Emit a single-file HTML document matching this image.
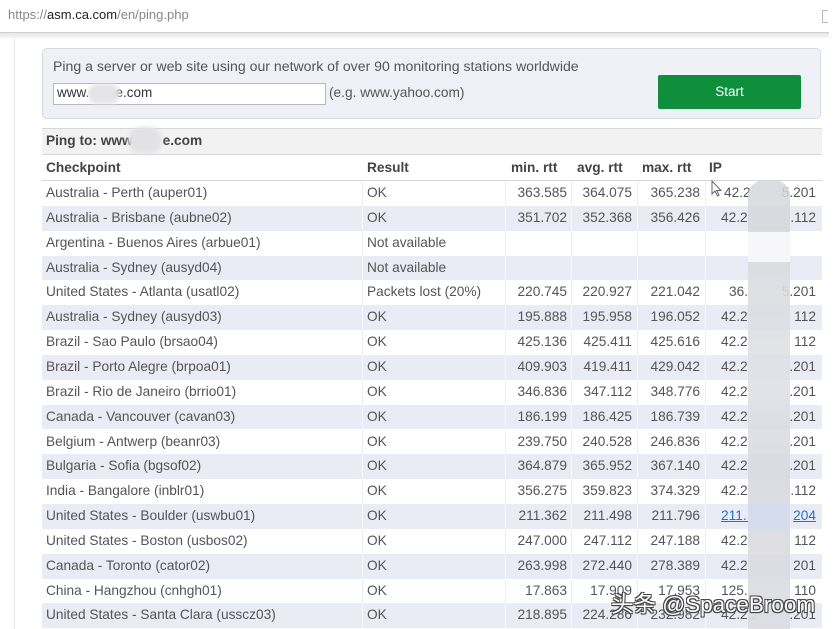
<!DOCTYPE html>
<html><head><meta charset="utf-8">
<style>
*{margin:0;padding:0;box-sizing:border-box}
html,body{width:837px;height:629px;overflow:hidden;background:#fff}
body{position:relative;font-family:"Liberation Sans","Noto Sans CJK SC",sans-serif;color:#555;font-size:13.7px}
.a{position:absolute;white-space:nowrap}
.row{position:absolute;left:42px;width:780px;height:24.85px;line-height:24.85px}
.row.s{background:#e9ecf4}
.c{position:absolute;top:0;height:100%;white-space:nowrap}
.vb{position:absolute;top:0;height:100%;width:1px;background:#eeeeee}
.row.s .vb{background:#f7f8fb}
.n{text-align:right}
</style></head><body>
<!-- browser chrome -->
<div class="a" style="left:8px;top:7px;font-size:13px;color:#888">https://<span style="color:#222">asm.ca.com</span>/en/ping.php</div>
<div class="a" style="left:822px;top:10px;width:6px;height:13px;border:1px solid #bbb;border-right:none"></div>
<div class="a" style="left:0;top:32px;width:829px;height:1px;background:#cfcfcf"></div>
<div class="a" style="left:0;top:33px;width:829px;height:5px;background:linear-gradient(#e6e6e6,#f6f6f6)"></div>
<div class="a" style="left:14px;top:38px;width:1px;height:591px;background:#e8e8e8"></div>

<!-- form box -->
<div class="a" style="left:42px;top:48px;width:779px;height:71px;background:#eff1f6;border:1px solid #d6d9e0;border-radius:5px"></div>
<div class="a" style="left:53px;top:58px;font-size:14.1px;color:#555">Ping a server or web site using our network of over 90 monitoring stations worldwide</div>
<div class="a" style="left:53px;top:83px;width:273px;height:22px;background:#fff;border:1px solid #b8b8b8"></div>
<div class="a" style="left:57px;top:85px;font-size:13.5px;color:#333">www.&nbsp;&nbsp;&nbsp;&nbsp;&nbsp;&nbsp;&nbsp;e.com</div>
<div class="a" style="left:88px;top:84px;width:32px;height:20px;border-radius:10px;background:#e4e4e6;filter:blur(2px)"></div>
<div class="a" style="left:329px;top:85px;font-size:13.7px;color:#555">(e.g. www.yahoo.com)</div>
<div class="a" style="left:658px;top:75px;width:143px;height:34px;background:#0f8f3c;border-radius:2px;color:#fff;font-size:13.5px;line-height:34px;text-align:center">Start</div>

<!-- ping to row -->
<div class="a" style="left:42px;top:128px;width:780px;height:1px;background:#d8d8d8"></div>
<div class="a" style="left:42px;top:129px;width:780px;height:25px;background:#f2f2f2"></div>
<div class="a" style="left:42px;top:154px;width:780px;height:1px;background:#d8d8d8"></div>
<div class="a" style="left:46px;top:133px;font-weight:bold;color:#444">Ping to: www.&nbsp;&nbsp;&nbsp;&nbsp;&nbsp;&nbsp;&nbsp;e.com</div>
<div class="a" style="left:128px;top:127px;width:34px;height:27px;border-radius:14px;background:#e2e2e4;filter:blur(2px)"></div>

<!-- header -->
<div class="a" style="left:42px;top:155px;width:780px;height:25px;line-height:25px;font-weight:bold;color:#444">
<span class="c" style="left:4px">Checkpoint</span>
<span class="c" style="left:325px">Result</span>
<span class="c" style="left:469px">min. rtt</span>
<span class="c" style="left:535px">avg. rtt</span>
<span class="c" style="left:600px">max. rtt</span>
<span class="c" style="left:667px">IP</span>
</div>
<div class="a" style="left:42px;top:180px;width:780px;height:1px;background:#d6d6d6"></div>

<!-- rows -->
<div class="row" style="top:181px"><span class="c" style="left:4px">Australia - Perth (auper01)</span><span class="vb" style="left:320px"></span><span class="c" style="left:325px">OK</span><span class="vb" style="left:463px"></span><span class="c n" style="right:255px">363.585</span><span class="vb" style="left:529px"></span><span class="c n" style="right:190px">364.075</span><span class="vb" style="left:595px"></span><span class="c n" style="right:122px">365.238</span><span class="vb" style="left:663px"></span><span class="c" style="left:682px">42.2</span><span class="c n" style="right:6px">5.201</span></div>
<div class="row s" style="top:205.85px"><span class="c" style="left:4px">Australia - Brisbane (aubne02)</span><span class="vb" style="left:320px"></span><span class="c" style="left:325px">OK</span><span class="vb" style="left:463px"></span><span class="c n" style="right:255px">351.702</span><span class="vb" style="left:529px"></span><span class="c n" style="right:190px">352.368</span><span class="vb" style="left:595px"></span><span class="c n" style="right:122px">356.426</span><span class="vb" style="left:663px"></span><span class="c" style="left:679px">42.2</span><span class="c n" style="right:6px">.112</span></div>
<div class="row" style="top:230.7px"><span class="c" style="left:4px">Argentina - Buenos Aires (arbue01)</span><span class="vb" style="left:320px"></span><span class="c" style="left:325px">Not available</span><span class="vb" style="left:463px"></span><span class="vb" style="left:529px"></span><span class="vb" style="left:595px"></span><span class="vb" style="left:663px"></span></div>
<div class="row s" style="top:255.55px"><span class="c" style="left:4px">Australia - Sydney (ausyd04)</span><span class="vb" style="left:320px"></span><span class="c" style="left:325px">Not available</span><span class="vb" style="left:463px"></span><span class="vb" style="left:529px"></span><span class="vb" style="left:595px"></span><span class="vb" style="left:663px"></span></div>
<div class="row" style="top:280.4px"><span class="c" style="left:4px">United States - Atlanta (usatl02)</span><span class="vb" style="left:320px"></span><span class="c" style="left:325px">Packets lost (20%)</span><span class="vb" style="left:463px"></span><span class="c n" style="right:255px">220.745</span><span class="vb" style="left:529px"></span><span class="c n" style="right:190px">220.927</span><span class="vb" style="left:595px"></span><span class="c n" style="right:122px">221.042</span><span class="vb" style="left:663px"></span><span class="c" style="left:687px">36.</span><span class="c n" style="right:6px">5.201</span></div>
<div class="row s" style="top:305.25px"><span class="c" style="left:4px">Australia - Sydney (ausyd03)</span><span class="vb" style="left:320px"></span><span class="c" style="left:325px">OK</span><span class="vb" style="left:463px"></span><span class="c n" style="right:255px">195.888</span><span class="vb" style="left:529px"></span><span class="c n" style="right:190px">195.958</span><span class="vb" style="left:595px"></span><span class="c n" style="right:122px">196.052</span><span class="vb" style="left:663px"></span><span class="c" style="left:679px">42.2</span><span class="c n" style="right:6px">112</span></div>
<div class="row" style="top:330.1px"><span class="c" style="left:4px">Brazil - Sao Paulo (brsao04)</span><span class="vb" style="left:320px"></span><span class="c" style="left:325px">OK</span><span class="vb" style="left:463px"></span><span class="c n" style="right:255px">425.136</span><span class="vb" style="left:529px"></span><span class="c n" style="right:190px">425.411</span><span class="vb" style="left:595px"></span><span class="c n" style="right:122px">425.616</span><span class="vb" style="left:663px"></span><span class="c" style="left:679px">42.2</span><span class="c n" style="right:6px">112</span></div>
<div class="row s" style="top:354.95px"><span class="c" style="left:4px">Brazil - Porto Alegre (brpoa01)</span><span class="vb" style="left:320px"></span><span class="c" style="left:325px">OK</span><span class="vb" style="left:463px"></span><span class="c n" style="right:255px">409.903</span><span class="vb" style="left:529px"></span><span class="c n" style="right:190px">419.411</span><span class="vb" style="left:595px"></span><span class="c n" style="right:122px">429.042</span><span class="vb" style="left:663px"></span><span class="c" style="left:679px">42.2</span><span class="c n" style="right:6px">.201</span></div>
<div class="row" style="top:379.8px"><span class="c" style="left:4px">Brazil - Rio de Janeiro (brrio01)</span><span class="vb" style="left:320px"></span><span class="c" style="left:325px">OK</span><span class="vb" style="left:463px"></span><span class="c n" style="right:255px">346.836</span><span class="vb" style="left:529px"></span><span class="c n" style="right:190px">347.112</span><span class="vb" style="left:595px"></span><span class="c n" style="right:122px">348.776</span><span class="vb" style="left:663px"></span><span class="c" style="left:679px">42.2</span><span class="c n" style="right:6px">.201</span></div>
<div class="row s" style="top:404.65px"><span class="c" style="left:4px">Canada - Vancouver (cavan03)</span><span class="vb" style="left:320px"></span><span class="c" style="left:325px">OK</span><span class="vb" style="left:463px"></span><span class="c n" style="right:255px">186.199</span><span class="vb" style="left:529px"></span><span class="c n" style="right:190px">186.425</span><span class="vb" style="left:595px"></span><span class="c n" style="right:122px">186.739</span><span class="vb" style="left:663px"></span><span class="c" style="left:679px">42.2</span><span class="c n" style="right:6px">.201</span></div>
<div class="row" style="top:429.5px"><span class="c" style="left:4px">Belgium - Antwerp (beanr03)</span><span class="vb" style="left:320px"></span><span class="c" style="left:325px">OK</span><span class="vb" style="left:463px"></span><span class="c n" style="right:255px">239.750</span><span class="vb" style="left:529px"></span><span class="c n" style="right:190px">240.528</span><span class="vb" style="left:595px"></span><span class="c n" style="right:122px">246.836</span><span class="vb" style="left:663px"></span><span class="c" style="left:679px">42.2</span><span class="c n" style="right:6px">.201</span></div>
<div class="row s" style="top:454.35px"><span class="c" style="left:4px">Bulgaria - Sofia (bgsof02)</span><span class="vb" style="left:320px"></span><span class="c" style="left:325px">OK</span><span class="vb" style="left:463px"></span><span class="c n" style="right:255px">364.879</span><span class="vb" style="left:529px"></span><span class="c n" style="right:190px">365.952</span><span class="vb" style="left:595px"></span><span class="c n" style="right:122px">367.140</span><span class="vb" style="left:663px"></span><span class="c" style="left:679px">42.2</span><span class="c n" style="right:6px">.201</span></div>
<div class="row" style="top:479.2px"><span class="c" style="left:4px">India - Bangalore (inblr01)</span><span class="vb" style="left:320px"></span><span class="c" style="left:325px">OK</span><span class="vb" style="left:463px"></span><span class="c n" style="right:255px">356.275</span><span class="vb" style="left:529px"></span><span class="c n" style="right:190px">359.823</span><span class="vb" style="left:595px"></span><span class="c n" style="right:122px">374.329</span><span class="vb" style="left:663px"></span><span class="c" style="left:679px">42.2</span><span class="c n" style="right:6px">.112</span></div>
<div class="row s" style="top:504.05px"><span class="c" style="left:4px">United States - Boulder (uswbu01)</span><span class="vb" style="left:320px"></span><span class="c" style="left:325px">OK</span><span class="vb" style="left:463px"></span><span class="c n" style="right:255px">211.362</span><span class="vb" style="left:529px"></span><span class="c n" style="right:190px">211.498</span><span class="vb" style="left:595px"></span><span class="c n" style="right:122px">211.796</span><span class="vb" style="left:663px"></span><span class="c" style="left:679px;color:#2a6fc9;text-decoration:underline">211.&nbsp;&nbsp;</span><span class="c n" style="right:6px;color:#2a6fc9;text-decoration:underline">204</span></div>
<div class="row" style="top:528.9px"><span class="c" style="left:4px">United States - Boston (usbos02)</span><span class="vb" style="left:320px"></span><span class="c" style="left:325px">OK</span><span class="vb" style="left:463px"></span><span class="c n" style="right:255px">247.000</span><span class="vb" style="left:529px"></span><span class="c n" style="right:190px">247.112</span><span class="vb" style="left:595px"></span><span class="c n" style="right:122px">247.188</span><span class="vb" style="left:663px"></span><span class="c" style="left:679px">42.2</span><span class="c n" style="right:6px">112</span></div>
<div class="row s" style="top:553.75px"><span class="c" style="left:4px">Canada - Toronto (cator02)</span><span class="vb" style="left:320px"></span><span class="c" style="left:325px">OK</span><span class="vb" style="left:463px"></span><span class="c n" style="right:255px">263.998</span><span class="vb" style="left:529px"></span><span class="c n" style="right:190px">272.440</span><span class="vb" style="left:595px"></span><span class="c n" style="right:122px">278.389</span><span class="vb" style="left:663px"></span><span class="c" style="left:679px">42.2</span><span class="c n" style="right:6px">201</span></div>
<div class="row" style="top:578.6px"><span class="c" style="left:4px">China - Hangzhou (cnhgh01)</span><span class="vb" style="left:320px"></span><span class="c" style="left:325px">OK</span><span class="vb" style="left:463px"></span><span class="c n" style="right:255px">17.863</span><span class="vb" style="left:529px"></span><span class="c n" style="right:190px">17.909</span><span class="vb" style="left:595px"></span><span class="c n" style="right:122px">17.953</span><span class="vb" style="left:663px"></span><span class="c" style="left:679px">125.</span><span class="c n" style="right:6px">110</span></div>
<div class="row s" style="top:603.45px"><span class="c" style="left:4px">United States - Santa Clara (usscz03)</span><span class="vb" style="left:320px"></span><span class="c" style="left:325px">OK</span><span class="vb" style="left:463px"></span><span class="c n" style="right:255px">218.895</span><span class="vb" style="left:529px"></span><span class="c n" style="right:190px">224.286</span><span class="vb" style="left:595px"></span><span class="c n" style="right:122px">232.982</span><span class="vb" style="left:663px"></span><span class="c" style="left:679px">42.2..</span><span class="c n" style="right:6px">.201</span></div>

<!-- blur block in IP column -->
<div class="a" style="left:748px;top:180px;width:42px;height:52px;background:#d6d7db;border-radius:16px 16px 0 0;opacity:.85"></div>
<div class="a" style="left:748px;top:232px;width:42px;height:30px;background:#f7f7f9"></div>
<div class="a" style="left:748px;top:262px;width:42px;height:367px;background:linear-gradient(#dadbdf,#e0e1e6 30%,#d8d9de 60%,#dcdde2);opacity:.9"></div>
<div class="a" style="left:748px;top:504px;width:42px;height:25px;background:#d3dcec;opacity:.85"></div>

<!-- cursor -->
<svg class="a" style="left:711px;top:180px" width="12" height="18" viewBox="0 0 12 18"><path d="M1 1 L1 14 L4 11 L6.5 16 L8 15.3 L5.7 10.5 L10 10.5 Z" fill="#fff" stroke="#666" stroke-width="1"/></svg>

<!-- watermark -->
<div class="a" style="left:611px;top:587px;font-size:22.5px;color:#fff;text-shadow:1px 1px 0 #444,-1px -1px 0 #444,1px -1px 0 #444,-1px 1px 0 #444,0 1px 1px #333">头条 @SpaceBroom</div>
</body></html>
